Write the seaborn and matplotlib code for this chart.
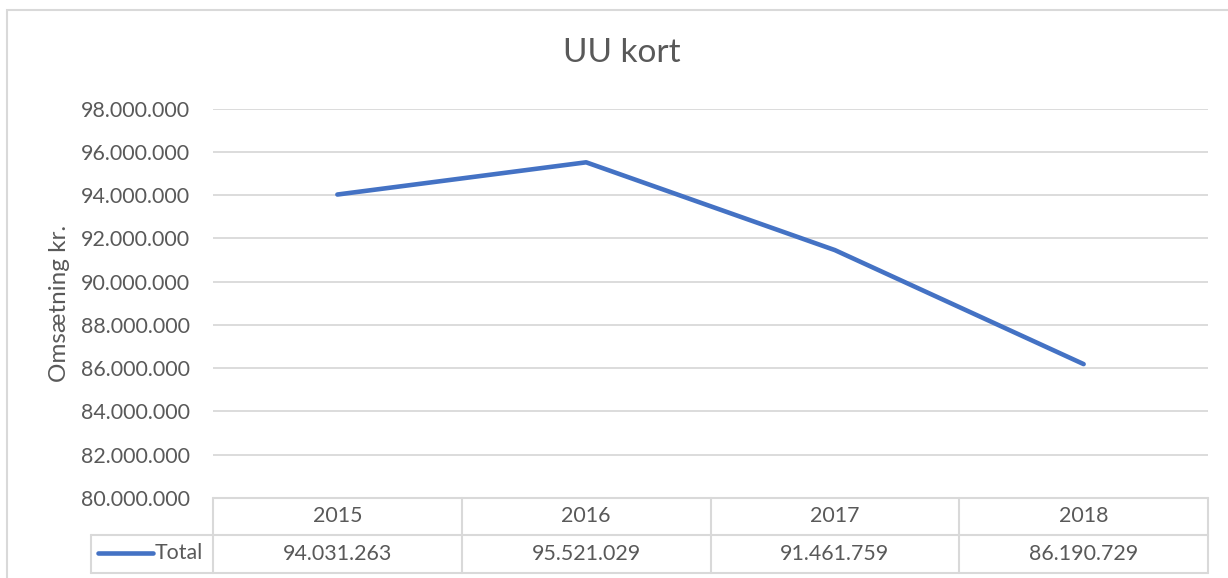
import numpy as np
import pandas as pd
import seaborn as sns
import matplotlib.pyplot as plt
from matplotlib.lines import Line2D
from matplotlib.patches import Rectangle

# data
years = ['2015', '2016', '2017', '2018']
totals = [94031263, 95521029, 91461759, 86190729]
series_name = 'Total'
yticks = list(range(80000000, 98000001, 2000000))

df = pd.DataFrame({'year': years, 'total': totals})
df['pos'] = np.arange(len(years))

def dk(v):
    # danish thousands separator
    return f'{v:,.0f}'.replace(',', '.')

sns.set_theme(style='white')
plt.rcParams['font.family'] = ['Lato', 'DejaVu Sans']
grey_txt = '#595959'
grey_line = '#D9D9D9'
blue = '#4472C4'
fs = 15.4

W, H = 1228, 578
fig = plt.figure(figsize=(W / 100, H / 100), dpi=100)

# pixel helpers
def fx(px):
    return px / W

def fy(py):
    return 1 - py / H

ax_l, ax_r, ax_t, ax_b = 213, 1208, 108.7, 498
ax = fig.add_axes([fx(ax_l), fy(ax_b), fx(ax_r) - fx(ax_l), fy(ax_t) - fy(ax_b)])

sns.lineplot(data=df, x='pos', y='total', ax=ax, color=blue, linewidth=3.3,
             legend=False)
ax.set_xlim(-0.5, len(years) - 0.5)
ax.set_ylim(yticks[0], yticks[-1])
ax.set_yticks(yticks)
ax.set_yticklabels([dk(t) for t in yticks], color=grey_txt, fontsize=fs)
ax.set_xticks([])
ax.set_xlabel('')
ax.set_ylabel('Omsætning kr.', color=grey_txt, fontsize=17.5, va='center')
ax.yaxis.set_label_coords((60 - ax_l) / (ax_r - ax_l), 0.5)
ax.tick_params(axis='y', length=0, pad=16.5)
ax.grid(axis='y', color=grey_line, linewidth=1.3)
for s in ax.spines.values():
    s.set_visible(False)

# outer chart border
fig.add_artist(Rectangle((fx(7), fy(600)), fx(1240) - fx(7), fy(10) - fy(600),
                         fill=False, edgecolor=grey_line, linewidth=1.5,
                         transform=fig.transFigure))

fig.text(fx(622), fy(53), 'UU kort', ha='center', va='center',
         fontsize=24, color=grey_txt)

# data table under the plot
row1, row2, row3 = 498, 535, 573
col_w = (ax_r - ax_l) / len(years)
cols = [ax_l + i * col_w for i in range(len(years) + 1)]
leg_l = 91

def hline(y, x0, x1):
    fig.add_artist(Line2D([fx(x0), fx(x1)], [fy(y), fy(y)], color=grey_line,
                          linewidth=1.5, transform=fig.transFigure))

def vline(x, y0, y1):
    fig.add_artist(Line2D([fx(x), fx(x)], [fy(y0), fy(y1)], color=grey_line,
                          linewidth=1.5, transform=fig.transFigure))

hline(row1, ax_l, ax_r)
hline(row2, leg_l, ax_r)
hline(row3, leg_l, ax_r)
for c in cols:
    vline(c, row1, row3)
vline(leg_l, row2, row3)

for i, (yr, v) in enumerate(zip(years, totals)):
    cx = cols[i] + col_w / 2
    fig.text(fx(cx), fy((row1 + row2) / 2), yr, ha='center', va='center',
             fontsize=fs, color=grey_txt)
    fig.text(fx(cx), fy((row2 + row3) / 2), dk(v), ha='center', va='center',
             fontsize=fs, color=grey_txt)

# legend key inside the table
fig.add_artist(Line2D([fx(98), fx(153)], [fy(553), fy(553)], color=blue,
                      linewidth=3.3, solid_capstyle='round',
                      transform=fig.transFigure))
fig.text(fx(155), fy(553), series_name, ha='left', va='center', fontsize=fs,
         color=grey_txt)

fig.savefig('out.png', dpi=100)
